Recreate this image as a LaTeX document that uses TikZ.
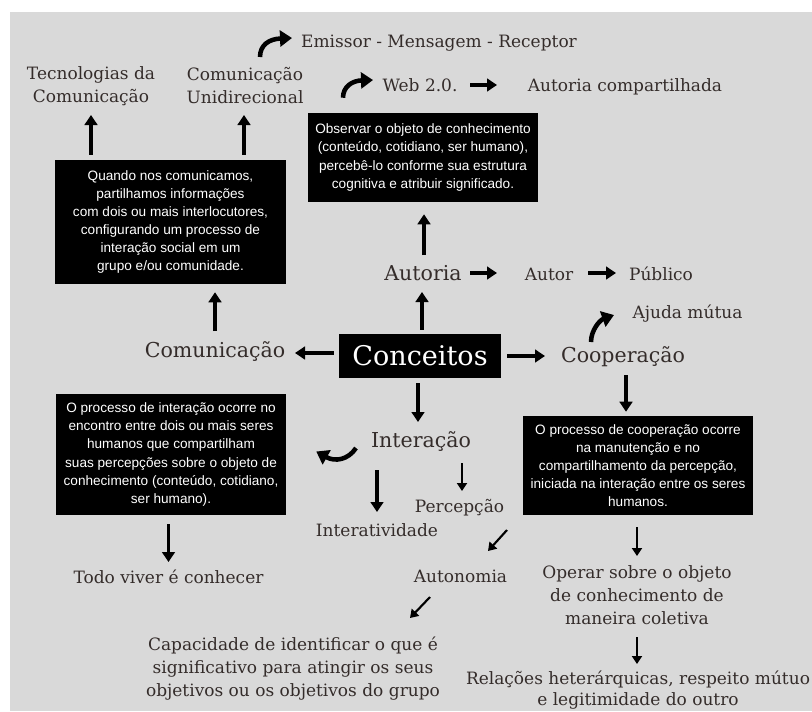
\documentclass[tikz,border=0pt]{standalone}
\usepackage{fontspec}
\setmainfont{DejaVu Serif}
\newfontfamily\boxfont{Liberation Sans}
\usetikzlibrary{arrows.meta,calc}
\definecolor{bggrey}{RGB}{217,217,217}
\definecolor{txtc}{RGB}{52,44,42}
\begin{document}
\begin{tikzpicture}[x=0.75pt,y=-0.75pt,
  lab/.style={inner sep=0pt, anchor=base, text=txtc, font=\fontsize{12.75}{17.25}\selectfont},
  mainlab/.style={lab, font=\fontsize{15.4}{18}\selectfont},
  blackbox/.style={fill=black, text=white, inner sep=0pt, align=center, font=\boxfont\fontsize{10.2}{13.6}\selectfont},
  arr/.style={line width=2.4pt, -{Triangle[length=7.5pt,width=9.5pt]}},
  thinarr/.style={line width=1.6pt, -{Triangle[length=6pt,width=7.5pt]}},
  curvarr/.style={line width=3.4pt, -{Triangle[length=9pt,width=12pt]}},
]
\useasboundingbox (0,0) rectangle (812,711);
\fill[white] (0,0) rectangle (812,711);
\fill[bggrey] (10,12) rectangle (812,711);

% labels
\node[lab] (emissor) at (439,47) {Emissor - Mensagem - Receptor};
\node[lab] (tec) at (91,79) {\begin{tabular}[t]{@{}c@{}}Tecnologias da\\Comunicação\end{tabular}};
\node[lab] (uni) at (245,80) {\begin{tabular}[t]{@{}c@{}}Comunicação\\Unidirecional\end{tabular}};
\node[lab] (web) at (420,91) {Web 2.0.};
\node[lab] (autcomp) at (625,91) {Autoria compartilhada};
\node[blackbox, minimum width=172.5pt, minimum height=66.75pt] (topbox) at (423,157.5)
  {Observar o objeto de conhecimento\\(conteúdo, cotidiano, ser humano),\\percebê-lo conforme sua estrutura\\cognitiva e atribuir significado.};
\node[blackbox, minimum width=173.25pt, minimum height=93pt] (lbox) at (170.5,222)
  {Quando nos comunicamos,\\partilhamos informações\\com dois ou mais interlocutores,\\configurando um processo de\\interação social em um\\grupo e/ou comunidade.};
\node[mainlab] (autoria) at (423,280) {Autoria};
\node[lab] (autor) at (549,280) {Autor};
\node[lab] (publico) at (661,280) {Público};
\node[lab] (ajuda) at (687.5,318) {Ajuda mútua};
\node[fill=black, text=white, inner sep=0pt, minimum width=121.5pt, minimum height=33pt,
  font=\fontsize{20.3}{24}\selectfont] (conc) at (420,356) {Conceitos};
\node[mainlab] (coop) at (623,362) {Cooperação};
\node[mainlab] (comun) at (215,357) {Comunicação};
\node[mainlab] (interacao) at (421,447) {Interação};
\node[blackbox, minimum width=172.5pt, minimum height=90.75pt] (lbox2) at (171,454.5)
  {O processo de interação ocorre no\\encontro entre dois ou mais seres\\humanos que compartilham\\suas percepções sobre o objeto de\\conhecimento (conteúdo, cotidiano,\\ser humano).};
\node[blackbox, minimum width=172.5pt, minimum height=74.25pt] (rbox) at (638,465.5)
  {O processo de cooperação ocorre\\na manutenção e no\\compartilhamento da percepção,\\iniciada na interação entre os seres\\humanos.};
\node[lab] (percep) at (459.5,512) {Percepção};
\node[lab] (interat) at (377,536) {Interatividade};
\node[lab] (todo) at (168.5,583) {Todo viver é conhecer};
\node[lab] (autonomia) at (460.5,582) {Autonomia};
\node[lab] (capac) at (293,650) {\begin{tabular}[t]{@{}c@{}}Capacidade de identificar o que é\\significativo para atingir os seus\\objetivos ou os objetivos do grupo\end{tabular}};
\node[lab] (operar) at (637,578) {\begin{tabular}[t]{@{}c@{}}Operar sobre o objeto\\de conhecimento de\\maneira coletiva\end{tabular}};
\node[lab, font=\fontsize{12.75}{16.3}\selectfont] (relacoes) at (638,684) {\begin{tabular}[t]{@{}c@{}}Relações heterárquicas, respeito mútuo\\e legitimidade do outro\end{tabular}};

% connectors
\draw[arr] ($(lbox.north -| tec.base)+(0,-5)$) -- ($(tec.base)+(0,36)$);
\draw[arr] ($(lbox.north -| uni.base)+(-1,-5)$) -- ($(uni.base)+(-1,35)$);
\draw[curvarr] ($(uni.base)+(15,-23)$) .. controls ($(uni.base)+(15,-35)$) and ($(uni.base)+(24,-41)$) .. ($(emissor.base)+(-147,-9)$);
\draw[curvarr] ($(topbox.north)+(-80,-15)$) .. controls ($(topbox.north)+(-80,-26)$) and ($(topbox.north)+(-71,-32)$) .. ($(web.base)+(-47,-11)$);
\draw[arr] ($(web.base)+(50,-6)$) -- ($(autcomp.base)+(-128,-6)$);
\draw[arr] ($(autoria.base)+(1,-25)$) -- ($(topbox.south)+(1,12)$);
\draw[arr] ($(conc.north)+(2,-4)$) -- ($(autoria.base)+(-1,12)$);
\draw[arr] ($(autoria.base)+(47,-7)$) -- ($(autor.base)+(-52,-7)$);
\draw[arr] ($(autor.base)+(39,-7)$) -- ($(publico.base)+(-45,-7)$);
\draw[curvarr] ($(coop.base)+(-32,-20)$) .. controls ($(coop.base)+(-32,-32)$) and ($(coop.base)+(-23,-42)$) .. ($(ajuda.base)+(-73.5,-3)$);
\draw[arr] ($(conc.east)+(6,0)$) -- ($(coop.base)+(-78,-6)$);
\draw[arr] ($(conc.west)+(-5,-3)$) -- ($(comun.base)+(80,-4)$);
\draw[arr] ($(comun.base)+(0,-26)$) -- ($(lbox.south -| comun.base)+(0,8)$);
\draw[arr] ($(coop.base)+(3,13)$) -- ($(rbox.north)+(-12,-4)$);
\draw[arr] ($(conc.south)+(-2,5)$) -- ($(interacao.base)+(-3,-25)$);
\draw[curvarr] ($(interacao.base)+(-65,1)$) .. controls ($(interacao.base)+(-73,13)$) and ($(interacao.base)+(-86,15)$) .. ($(lbox2.east)+(30,-3)$);
\draw[arr] ($(interacao.base)+(-44,23)$) -- ($(interat.base)+(0,-24)$);
\draw[thinarr] ($(interacao.base)+(41,16)$) -- ($(percep.base)+(2.5,-21)$);
\draw[thinarr] ($(percep.base)+(47.5,18)$) -- ($(autonomia.base)+(27.5,-31)$);
\draw[thinarr] ($(autonomia.base)+(-30.5,15)$) -- ($(capac.base)+(117,-32)$);
\draw[arr] ($(lbox2.south -| todo.base)+(0,9)$) -- ($(todo.base)+(0,-21)$);
\draw[thinarr] ($(rbox.south)+(-1,12)$) -- ($(operar.base)+(0,-22)$);
\draw[thinarr] ($(operar.base)+(0,59)$) -- ($(relacoes.base)+(-1,-20)$);
\end{tikzpicture}
\end{document}
